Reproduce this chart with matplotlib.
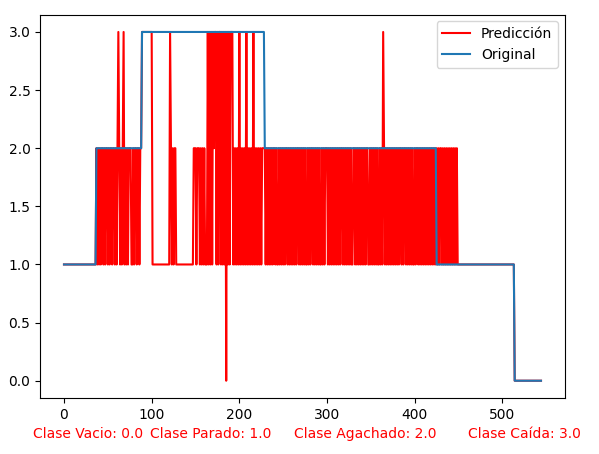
import numpy as np
import matplotlib
matplotlib.use("Agg")
import matplotlib.pyplot as plt

# original labels as run lengths (value, count)
orig_runs = [(1, 37), (2, 52), (3, 140), (2, 196), (1, 89), (0, 31)]

# predicted labels, one digit per sample
pred_r1 = "1" * 37
pred_r2 = "2121212212" "1221212212" "2121232121" "2312121222" "1121221221" "22"
pred_r3 = ("3" * 12 + "1" * 20 + "3" + "212122" + "1" * 20 + "222122212" + "1212111"
           + "3131313233" "1313313131" "3031313331" "2121213121" "2121312121"
           "2131212121" "21222")
pred_r4 = ("2121212121" "2212112121" "2121221212" "1212121221" "2121212112"
           "1212212121" "2121121212" "2212121212" "1212121221" "2121212121"
           "1221212121" "2121212211" "2121212121" "1212132121" "2121212121"
           "2121221212" "2121212121" "1212212121" "2121212121" "212121")
pred_r5 = "2121221212" "1212121212" "12121" + "1" * 64
pred_r6 = "0" * 31
pred = np.array([int(c) for c in pred_r1 + pred_r2 + pred_r3 + pred_r4 + pred_r5 + pred_r6], dtype=float)

orig = np.concatenate([[v] * n for v, n in orig_runs]).astype(float)

class_labels = ["Clase Vacio: 0.0", "Clase Parado: 1.0", "Clase Agachado: 2.0", "Clase Caída: 3.0"]

fig = plt.figure(figsize=(5.99, 4.54), dpi=100)
ax = fig.add_axes([0.067, 0.123, 0.876, 0.845])
ax.plot(np.arange(len(pred)), pred, color="red", label="Predicción")
ax.plot(np.arange(len(orig)), orig, color="#1f77b4", label="Original")
ax.set_xticks([0, 100, 200, 300, 400, 500])
ax.legend(loc="upper right")

xs = [0.147, 0.352, 0.609, 0.876]
for x, t in zip(xs, class_labels):
    fig.text(x, 0.035, t, color="red", ha="center", fontsize=10)

fig.savefig("out.png", dpi=100)
